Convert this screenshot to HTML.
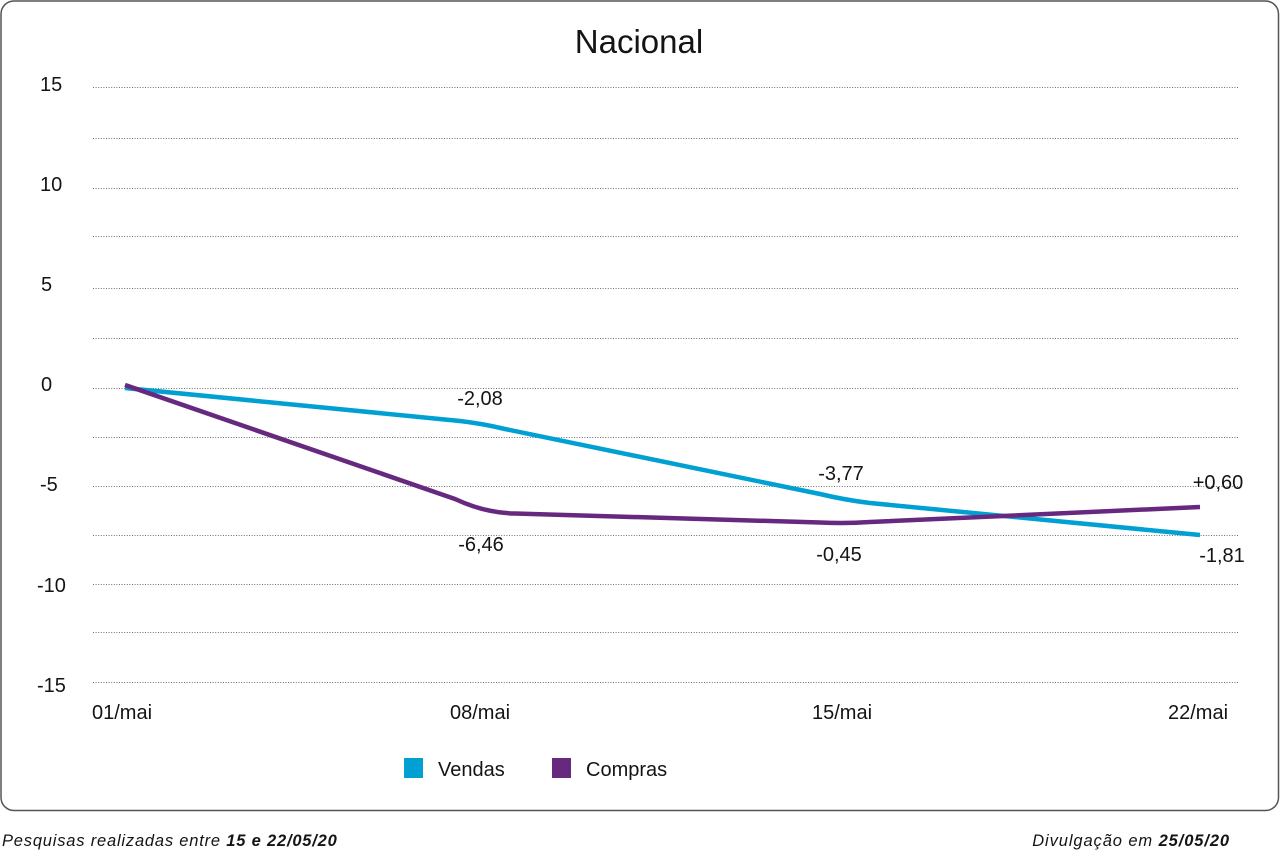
<!DOCTYPE html>
<html>
<head>
<meta charset="utf-8">
<style>
  html, body { margin: 0; padding: 0; background: #ffffff; }
  body { width: 1280px; height: 864px; overflow: hidden; }
  svg { display: block; }
  text { font-family: "Liberation Sans", "DejaVu Sans", sans-serif; fill: #141414; }
</style>
</head>
<body>
<svg width="1280" height="864" viewBox="0 0 1280 864" xmlns="http://www.w3.org/2000/svg">
  <!-- outer frame -->
  <rect x="1" y="1" width="1277.5" height="809.5" rx="13" ry="13" fill="#ffffff" stroke="#555555" stroke-width="1.5"/>

  <!-- title -->
  <text x="639" y="53" font-size="33" text-anchor="middle">Nacional</text>

  <!-- gridlines -->
  <g stroke="#6e6e6e" stroke-width="1" stroke-dasharray="1 1.6" fill="none">
    <line x1="93" y1="87.5" x2="1239" y2="87.5"/>
    <line x1="93" y1="138.5" x2="1239" y2="138.5"/>
    <line x1="93" y1="188.5" x2="1239" y2="188.5"/>
    <line x1="93" y1="236.5" x2="1239" y2="236.5"/>
    <line x1="93" y1="288.5" x2="1239" y2="288.5"/>
    <line x1="93" y1="338.5" x2="1239" y2="338.5"/>
    <line x1="93" y1="388.5" x2="1239" y2="388.5"/>
    <line x1="93" y1="437.5" x2="1239" y2="437.5"/>
    <line x1="93" y1="486.5" x2="1239" y2="486.5"/>
    <line x1="93" y1="535.5" x2="1239" y2="535.5"/>
    <line x1="93" y1="584.5" x2="1239" y2="584.5"/>
    <line x1="93" y1="632.5" x2="1239" y2="632.5"/>
    <line x1="93" y1="682.5" x2="1239" y2="682.5"/>
  </g>

  <!-- y axis labels -->
  <g font-size="20">
    <text x="40" y="91">15</text>
    <text x="40" y="191">10</text>
    <text x="41" y="291">5</text>
    <text x="41" y="391">0</text>
    <text x="40" y="491">-5</text>
    <text x="37" y="592">-10</text>
    <text x="37" y="692">-15</text>
  </g>

  <!-- x axis labels -->
  <g font-size="20">
    <text x="92" y="719">01/mai</text>
    <text x="450" y="719">08/mai</text>
    <text x="812" y="719">15/mai</text>
    <text x="1168" y="719">22/mai</text>
  </g>

  <!-- series: Vendas -->
  <path d="M125,388 L460,421 Q482,423.5 505,429 L820,494 Q845,500 870,503 L1200,535"
        fill="none" stroke="#00A0D2" stroke-width="4.5" stroke-linejoin="round"/>
  <!-- series: Compras -->
  <path d="M125,385 L455,499 Q485,513 515,513.5 L820,522.5 Q845,523.8 870,522 L1200,507"
        fill="none" stroke="#66297F" stroke-width="4.5" stroke-linejoin="round"/>

  <!-- value labels -->
  <g font-size="20" text-anchor="middle">
    <text x="480" y="405">-2,08</text>
    <text x="481" y="551">-6,46</text>
    <text x="841" y="480">-3,77</text>
    <text x="839" y="561">-0,45</text>
    <text x="1218" y="489">+0,60</text>
    <text x="1222" y="562">-1,81</text>
  </g>

  <!-- legend -->
  <rect x="404" y="758" width="19" height="20" fill="#00A0D2"/>
  <text x="438" y="776" font-size="20">Vendas</text>
  <rect x="552" y="758" width="19" height="20" fill="#66297F"/>
  <text x="586" y="776" font-size="20">Compras</text>

  <!-- footer -->
  <text x="2" y="846" font-size="16.5" font-style="italic" letter-spacing="0.8">Pesquisas realizadas entre <tspan font-weight="bold">15 e 22/05/20</tspan></text>
  <text x="1230" y="846" font-size="16.5" font-style="italic" letter-spacing="0.9" text-anchor="end">Divulgação em <tspan font-weight="bold">25/05/20</tspan></text>
</svg>
</body>
</html>
